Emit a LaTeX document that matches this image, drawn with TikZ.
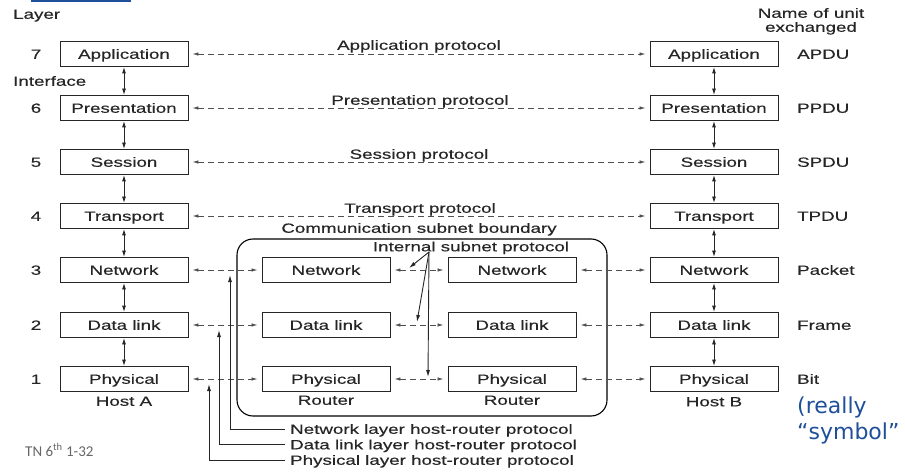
\documentclass[tikz,border=0pt]{standalone}
\usepackage{fontspec}
\setmainfont[FakeStretch=1.4,FakeBold=0.35]{Liberation Sans}
\newfontfamily\bluefont{DejaVu Sans}
\newfontfamily\notefont{Carlito}
\usetikzlibrary{arrows.meta}
\definecolor{slideblue}{HTML}{1F4E9A}
\definecolor{dashgray}{HTML}{505050}
\begin{document}
\begin{tikzpicture}[x=1pt,y=-1pt,
  every node/.style={font=\fontsize{13.4}{14}\selectfont, inner sep=0pt, text height=9.6pt, text depth=0pt, text=black!85},
  layerbox/.style={draw=black!85, line width=0.9pt, minimum width=128pt, minimum height=25pt},
  iface/.style={{Latex[length=6.5pt,width=4pt]}-{Latex[length=6.5pt,width=4pt]}, line width=0.9pt, draw=black!85},
  peer/.style={{Latex[length=6pt,width=3.5pt]}-{Latex[length=6pt,width=3.5pt]}, dash pattern=on 6pt off 4pt, line width=0.8pt, draw=dashgray, shorten <=4pt, shorten >=4pt},
  ptr/.style={-{Latex[length=7pt,width=4pt]}, line width=0.9pt, draw=black!85},
]
\useasboundingbox (0,0) rectangle (905,473);
\fill[slideblue] (31,0) rectangle (131,2);

% headings
\node[anchor=west] (hlayer) at (13,14) {Layer};
\node[anchor=west] (hiface) at (13,81) {Interface};
\node (hname1) at (811,13) {Name of unit};
\node (hname2) at (811,27) {exchanged};

% host A
\node[layerbox] (A7) at (124,54) {Application};
\node[layerbox] (A6) at (124,108) {Presentation};
\node[layerbox] (A5) at (124,162) {Session};
\node[layerbox] (A4) at (124,216) {Transport};
\node[layerbox] (A3) at (124,270) {Network};
\node[layerbox] (A2) at (124,325) {Data link};
\node[layerbox] (A1) at (124,379) {Physical};
% host B
\node[layerbox] (B7) at (714,54) {Application};
\node[layerbox] (B6) at (714,108) {Presentation};
\node[layerbox] (B5) at (714,162) {Session};
\node[layerbox] (B4) at (714,216) {Transport};
\node[layerbox] (B3) at (714,270) {Network};
\node[layerbox] (B2) at (714,325) {Data link};
\node[layerbox] (B1) at (714,379) {Physical};
% routers
\node[layerbox] (R3) at (326,270) {Network};
\node[layerbox] (R2) at (326,325) {Data link};
\node[layerbox] (R1) at (326,379) {Physical};
\node[layerbox] (S3) at (512,270) {Network};
\node[layerbox] (S2) at (512,325) {Data link};
\node[layerbox] (S1) at (512,379) {Physical};

% subnet boundary
\node[draw, line width=1.1pt, rounded corners=16pt, minimum width=370pt, minimum height=177pt] (subnet) at (422,327.5) {};

% layer numbers
\node (n7) at (36,54) {7};
\node (n6) at (36,108) {6};
\node (n5) at (36,162) {5};
\node (n4) at (36,216) {4};
\node (n3) at (36,270) {3};
\node (n2) at (36,325) {2};
\node (n1) at (36,379) {1};

% unit names
\node[anchor=west] (u7) at (797,54) {APDU};
\node[anchor=west] (u6) at (797,108) {PPDU};
\node[anchor=west] (u5) at (797,162) {SPDU};
\node[anchor=west] (u4) at (797,216) {TPDU};
\node[anchor=west] (u3) at (797,270) {Packet};
\node[anchor=west] (u2) at (797,325) {Frame};
\node[anchor=west] (u1) at (797,379) {Bit};

% bottom labels
\node (ha) at (124,401) {Host A};
\node (hb) at (714,401.5) {Host B};
\node (ra) at (326,400) {Router};
\node (rb) at (512,400) {Router};

% interfaces
\foreach \h in {A,B}{
  \draw[iface] (\h7) -- (\h6);
  \draw[iface] (\h6) -- (\h5);
  \draw[iface] (\h5) -- (\h4);
  \draw[iface] (\h4) -- (\h3);
  \draw[iface] (\h3) -- (\h2);
  \draw[iface] (\h2) -- (\h1);
}

% peer protocols
\draw[peer] (A7) -- (B7);
\draw[peer] (A6) -- (B6);
\draw[peer] (A5) -- (B5);
\draw[peer] (A4) -- (B4);
\foreach \i in {1,2,3}{
  \draw[peer] (A\i) -- (R\i);
  \draw[peer] (R\i) -- (S\i);
  \draw[peer] (S\i) -- (B\i);
}

% protocol labels
\node (p7) at (419,45) {Application protocol};
\node (p6) at (420,100) {Presentation protocol};
\node (p5) at (419,154) {Session protocol};
\node (p4) at (420,208) {Transport protocol};
\node (pc) at (419,228) {Communication subnet boundary};
\node (pi) at (471,246.5) {Internal subnet protocol};

% internal subnet protocol pointers
\coordinate (isp) at (429,252);
\coordinate (ip3) at (409,268);
\coordinate (ip2) at (417,322);
\coordinate (ip1) at (428,377);
\draw[ptr] (isp) -- (ip3);
\draw[ptr] (isp) -- (ip2);
\draw[ptr] (isp) -- (ip1);

% host-router protocols
\node[anchor=west] (lnet) at (290,429) {Network layer host-router protocol};
\node[anchor=west] (ldl) at (290,444.5) {Data link layer host-router protocol};
\node[anchor=west] (lph) at (290,460) {Physical layer host-router protocol};
\coordinate (tn) at (230,275);
\coordinate (td) at (219,330);
\coordinate (tp) at (209,384);
\draw[ptr] (lnet.west) ++(-5,0) -| (tn);
\draw[ptr] (ldl.west) ++(-5,0) -| (td);
\draw[ptr] (lph.west) ++(-5,0) -| (tp);

% slide annotations
\node[anchor=base west, font=\notefont\fontsize{15}{18}\selectfont, text=black!60, text height=, text depth=] (tn6) at (25,456) {TN 6\textsuperscript{th} 1-32};
\node[anchor=base west, font=\bluefont\fontsize{22}{26}\selectfont, text=slideblue, text height=, text depth=] (bl1) at (797,413) {(really};
\node[anchor=base west, font=\bluefont\fontsize{22}{26}\selectfont, text=slideblue, text height=, text depth=] (bl2) at (797,439) {“symbol”};
\end{tikzpicture}
\end{document}
